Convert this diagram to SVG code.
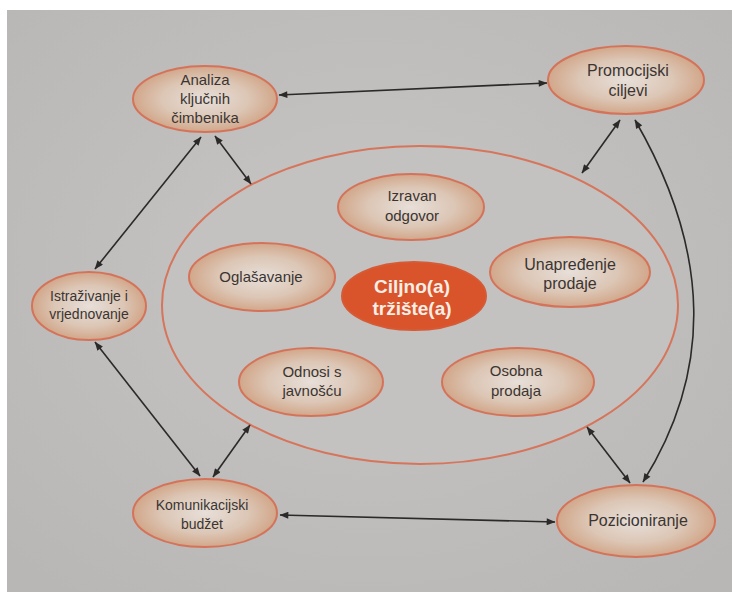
<svg xmlns="http://www.w3.org/2000/svg" width="732" height="592" viewBox="0 0 732 592">
<style>
.node{fill:url(#ng);stroke:#d4735a;stroke-width:2}
.txt{font-family:"Liberation Sans",Arial,sans-serif;font-size:15px;fill:#3b3532;text-anchor:middle}
.ctr{font-family:"Liberation Sans",Arial,sans-serif;font-size:19px;font-weight:bold;fill:#fbeee6;text-anchor:middle}
.con{fill:none;stroke:#2b2a29;stroke-width:1.6;marker-start:url(#ah);marker-end:url(#ah)}
</style>
<defs>
<radialGradient id="ng" cx="50%" cy="50%" r="55%">
<stop offset="0" stop-color="#e7dfd9"/>
<stop offset="0.55" stop-color="#dcc6b5"/>
<stop offset="1" stop-color="#cf9f7f"/>
</radialGradient>
<radialGradient id="bg" cx="50%" cy="45%" r="70%">
<stop offset="0" stop-color="#c7c6c4"/>
<stop offset="1" stop-color="#b8b7b5"/>
</radialGradient>
<marker id="ah" viewBox="0 0 10 8" refX="9.5" refY="4" markerWidth="10" markerHeight="7" markerUnits="userSpaceOnUse" orient="auto-start-reverse">
<path d="M0,0 L10,4 L0,8 Z" fill="#2b2a29"/>
</marker>
</defs>
<rect x="0" y="0" width="732" height="592" fill="#ffffff"/>
<rect x="7" y="10" width="725" height="582" fill="url(#bg)"/>

<g id="outer">
<ellipse cx="420" cy="305" rx="258" ry="159" fill="#c3c2c0" stroke="#d6755b" stroke-width="2"/>
</g>

<g id="connectors">
<line class="con" x1="279" y1="95" x2="547" y2="83"/>
<line class="con" x1="201" y1="137" x2="95" y2="269"/>
<line class="con" x1="215" y1="136" x2="251" y2="184"/>
<line class="con" x1="620" y1="120" x2="582" y2="173"/>
<path class="con" d="M635,120 C712,253 712,372 643,482"/>
<line class="con" x1="95" y1="342" x2="200" y2="476"/>
<line class="con" x1="213" y1="477" x2="250" y2="425"/>
<line class="con" x1="280" y1="515" x2="555" y2="522"/>
<line class="con" x1="587" y1="427" x2="630" y2="483"/>
</g>

<g id="analiza">
<ellipse class="node" cx="205" cy="99" rx="72" ry="33"/>
<text class="txt" x="205" y="85">Analiza</text>
<text class="txt" x="205" y="104">ključnih</text>
<text class="txt" x="205" y="123">čimbenika</text>
</g>
<g id="promocijski">
<ellipse class="node" cx="626" cy="80" rx="78" ry="34"/>
<text class="txt" x="628" y="76" style="font-size:16px">Promocijski</text>
<text class="txt" x="628" y="96" style="font-size:16px">ciljevi</text>
</g>
<g id="istrazivanje">
<ellipse class="node" cx="89" cy="306" rx="57" ry="34"/>
<text class="txt" x="89" y="301" style="font-size:14px">Istraživanje i</text>
<text class="txt" x="89" y="319" style="font-size:14px">vrjednovanje</text>
</g>
<g id="komunikacijski">
<ellipse class="node" cx="205" cy="513" rx="72" ry="34"/>
<text class="txt" x="202" y="510" style="font-size:14px">Komunikacijski</text>
<text class="txt" x="202" y="529" style="font-size:14px">budžet</text>
</g>
<g id="pozicioniranje">
<ellipse class="node" cx="636" cy="521" rx="79" ry="36"/>
<text class="txt" x="638" y="526" style="font-size:16px">Pozicioniranje</text>
</g>
<g id="izravan">
<ellipse class="node" cx="411" cy="207" rx="73" ry="33"/>
<text class="txt" x="412" y="201">Izravan</text>
<text class="txt" x="412" y="221">odgovor</text>
</g>
<g id="oglasavanje">
<ellipse class="node" cx="262" cy="277" rx="73" ry="34"/>
<text class="txt" x="261" y="282">Oglašavanje</text>
</g>
<g id="ciljno">
<ellipse cx="414" cy="296" rx="72" ry="34" fill="#d9542b" stroke="#d65a35" stroke-width="2"/>
<text class="ctr" x="412" y="293">Ciljno(a)</text>
<text class="ctr" x="412" y="315">tržište(a)</text>
</g>
<g id="unapredenje">
<ellipse class="node" cx="570" cy="272" rx="80" ry="35"/>
<text class="txt" x="570" y="270" style="font-size:16px">Unapređenje</text>
<text class="txt" x="570" y="289" style="font-size:16px">prodaje</text>
</g>
<g id="odnosi">
<ellipse class="node" cx="311" cy="382" rx="72" ry="34"/>
<text class="txt" x="312" y="377">Odnosi s</text>
<text class="txt" x="312" y="396">javnošću</text>
</g>
<g id="osobna">
<ellipse class="node" cx="518" cy="382" rx="76" ry="34"/>
<text class="txt" x="516" y="376">Osobna</text>
<text class="txt" x="516" y="396">prodaja</text>
</g>
</svg>
